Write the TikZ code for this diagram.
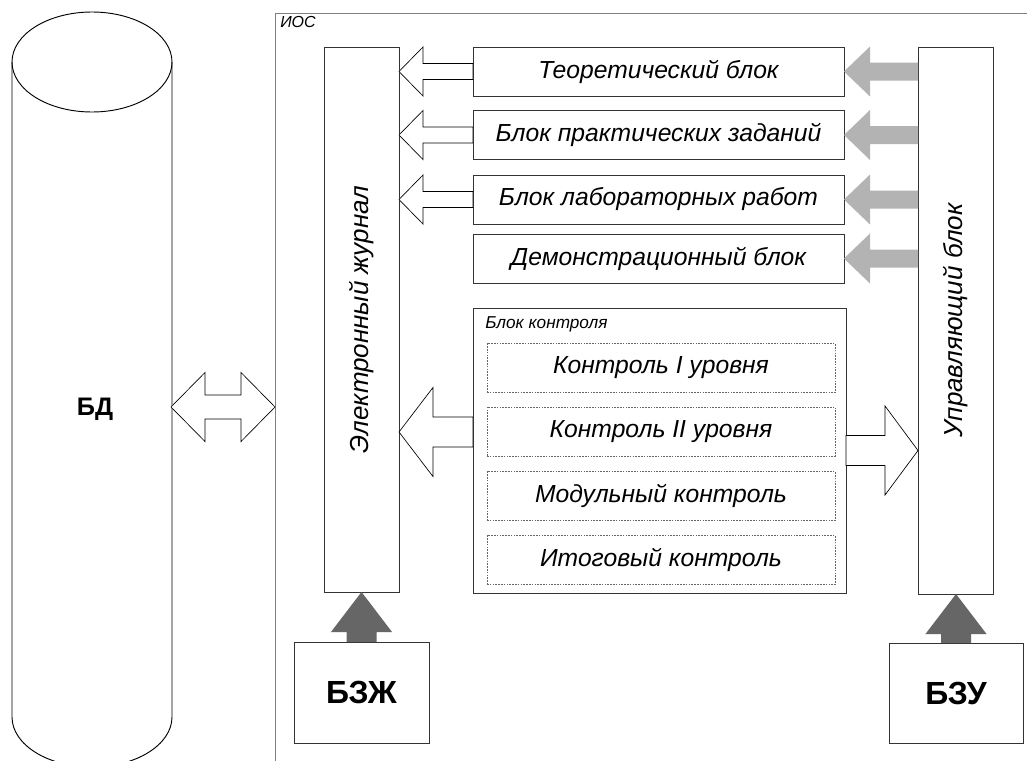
\documentclass[tikz,border=0pt]{standalone}
\usepackage{fontspec}
\setmainfont{Liberation Sans}
\usetikzlibrary{calc}
\definecolor{boxcol}{HTML}{333333}
\definecolor{framecol}{HTML}{808080}
\definecolor{lightarr}{HTML}{B3B3B3}
\definecolor{darkarr}{HTML}{666666}
% horizontal block arrow: style, tail, tip, shaft half, head half, offset tip->head base
\newcommand{\harr}[6]{\draw[#1] let \p1=(#2), \p2=(#3) in
  (\x1,\y1+#4) -- ({\x2+(#6)},\y1+#4) -- ({\x2+(#6)},\y1+#5) -- (\x2,\y1)
  -- ({\x2+(#6)},\y1-#5) -- ({\x2+(#6)},\y1-#4) -- (\x1,\y1-#4) -- cycle;}
% vertical block arrow
\newcommand{\varr}[6]{\draw[#1] let \p1=(#2), \p2=(#3) in
  (\x1+#4,\y1) -- (\x1+#4,{\y2+(#6)}) -- (\x1+#5,{\y2+(#6)}) -- (\x1,\y2)
  -- (\x1-#5,{\y2+(#6)}) -- (\x1-#4,{\y2+(#6)}) -- (\x1-#4,\y1) -- cycle;}
\begin{document}
\begin{tikzpicture}[x=0.75pt,y=-0.75pt,
  box/.style={draw=boxcol, line width=0.6pt, fill=white, inner sep=0pt, outer sep=0pt,
    font=\itshape\fontsize{18.5}{21}\selectfont},
  dbox/.style={box, draw=darkarr, dash pattern=on 1.2pt off 0.9pt, line width=0.5pt},
  bigbox/.style={box, font=\bfseries\fontsize{24}{27}\selectfont},
  vtext/.style={rotate=90, inner sep=0pt, font=\itshape\fontsize{19.5}{22}\selectfont},
  hollow/.style={draw=black, fill=white, line width=0.5pt, line join=miter},
  garr/.style={fill=lightarr, draw=none},
  darr/.style={fill=darkarr, draw=none},
  frame/.style={draw=framecol, line width=0.7pt, inner sep=0pt, outer sep=0pt}]
\useasboundingbox (0,0) rectangle (1027,760);
\clip (0,0) rectangle (1027,760);
\fill[white] (0,0) rectangle (1027,760);

% IOS frame
\node[frame, minimum width=693.75pt, minimum height=665.25pt] (ios) at (737.5,456.5) {};
\node[anchor=north west, inner sep=0pt, font=\itshape\fontsize{12}{14}\selectfont] (iostxt) at (280,16) {ИОС};

% database cylinder
\draw[line width=0.7pt] (12,62) -- (12,717) arc[start angle=180, end angle=0, x radius=80, y radius=50] -- (172,62);
\draw[line width=0.7pt] (92,62) ellipse[x radius=80, y radius=50];
\node[font=\bfseries\fontsize{19}{22}\selectfont] (bd) at (95,409) {БД};
\coordinate (bdR) at (171,407);

% main boxes
\node[box, minimum width=56.25pt, minimum height=408.75pt] (ej) at (361.5,319.5) {};
\node[vtext] (ejt) at (ej.center) {Электронный журнал};
\node[box, minimum width=56.25pt, minimum height=410.25pt] (upr) at (955.5,320.5) {};
\node[vtext] (uprt) at (upr.center) {Управляющий блок};

\node[box, minimum width=278.25pt, minimum height=36.75pt] (t1) at (658.5,71.5) {Теоретический блок};
\node[box, minimum width=278.25pt, minimum height=36.75pt] (t2) at (658.5,135) {Блок практических заданий};
\node[box, minimum width=278.25pt, minimum height=36.75pt] (t3) at (658.5,199.5) {Блок лабораторных работ};
\node[box, minimum width=278.25pt, minimum height=36.75pt] (t4) at (658.5,258.5) {Демонстрационный блок};

% control block
\node[box, minimum width=279.75pt, minimum height=213.75pt] (ctrl) at (659.5,450.5) {};
\node[anchor=north west, inner sep=0pt, font=\itshape\fontsize{12.9}{15}\selectfont] (ctrlt) at (485,316) {Блок контроля};
\node[dbox, minimum width=261pt, minimum height=36.75pt] (c1) at (661,368) {Контроль I уровня};
\node[dbox, minimum width=261pt, minimum height=36.75pt] (c2) at (661,431.5) {Контроль II уровня};
\node[dbox, minimum width=261pt, minimum height=36.75pt] (c3) at (661,496) {Модульный контроль};
\node[dbox, minimum width=261pt, minimum height=36.75pt] (c4) at (661,560) {Итоговый контроль};

% knowledge base boxes
\node[bigbox, minimum width=101.25pt, minimum height=75.75pt] (bzj) at (361.5,692.5) {БЗЖ};
\node[bigbox, minimum width=100.5pt, minimum height=75pt] (bzu) at (956,693) {БЗУ};

% arrows: blocks -> journal
\foreach \i in {1,2,3} {\harr{hollow}{t\i.west}{ej.east}{6pt}{18.4pt}{18pt}}
% arrows: control unit -> blocks
\foreach \i in {1,...,4} {\harr{garr}{t\i.east -| upr.west}{t\i.east}{6.75pt}{18.75pt}{19.5pt}}
% control block arrows
\harr{hollow}{$(ctrl.west)+(0,-18.5)$}{ej.east}{11.25pt}{33.4pt}{25.5pt}
\harr{hollow}{ctrl.east}{ctrl.east -| upr.west}{11.25pt}{33.4pt}{-24.75pt}
% knowledge bases -> boxes
\varr{darr}{bzj.north}{ej.south}{11.25pt}{22.9pt}{-30pt}
\varr{darr}{bzu.north}{upr.south}{11.25pt}{22.9pt}{-30pt}
% double arrow DB <-> IOS
\draw[hollow] let \p1=(bdR), \p2=(bdR -| ios.west) in
  (\x1,\y1) -- (\x1+25.5pt,\y1+25.9pt) -- (\x1+25.5pt,\y1+9pt) -- (\x2-25.5pt,\y1+9pt)
  -- (\x2-25.5pt,\y1+25.9pt) -- (\x2,\y1) -- (\x2-25.5pt,\y1-25.9pt) -- (\x2-25.5pt,\y1-9pt)
  -- (\x1+25.5pt,\y1-9pt) -- (\x1+25.5pt,\y1-25.9pt) -- cycle;
\end{tikzpicture}
\end{document}
